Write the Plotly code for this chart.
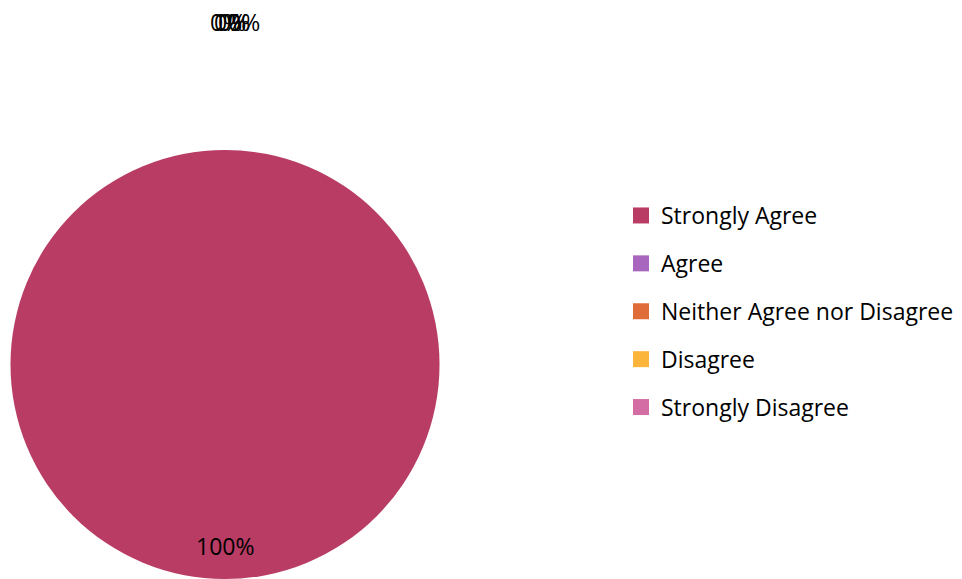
import plotly.graph_objects as go

categories = ["Strongly Agree", "Agree", "Neither Agree nor Disagree", "Disagree", "Strongly Disagree"]
values = [1, 0, 0, 0, 0]
colors = ["#B83C64", "#A966BE", "#E06C39", "#FBB53A", "#D36DA3"]

FONT = "Open Sans"
total = sum(values)
pct = [f"{round(v / total * 100)}%" for v in values]

fig = go.Figure()
fig.add_trace(go.Pie(
    labels=categories, values=values, sort=False, direction="clockwise", rotation=0,
    marker=dict(colors=colors, line=dict(width=0)),
    textinfo="none", showlegend=False, hoverinfo="label+percent",
    domain=dict(x=[0.0109, 0.4569], y=[0.0, 0.741]),
))

# legend entries
for c, col in zip(categories, colors):
    fig.add_trace(go.Scatter(x=[None], y=[None], mode="markers", name=c, legendgroup=c,
                             marker=dict(symbol="square", size=16, color=col)))

# data labels
zero_x = [226, 230, 234, 244]
zi = 0
annotations = []
for i, (v, p) in enumerate(zip(values, pct)):
    if v > 0:
        ax, ay = 225, 546
    else:
        ax, ay = zero_x[zi], 22
        zi += 1
    annotations.append(dict(x=ax / 962, y=1 - ay / 579, xref="paper", yref="paper", text=p,
                            xanchor="center", yanchor="middle", showarrow=False,
                            font=dict(family=FONT, size=23, color="#000000")))

fig.update_layout(
    width=962, height=579, margin=dict(l=0, r=0, t=0, b=0),
    paper_bgcolor="white", plot_bgcolor="white",
    xaxis=dict(visible=False), yaxis=dict(visible=False),
    annotations=annotations,
    legend=dict(x=621 / 962, xanchor="left", y=1 - 194 / 579, yanchor="top",
                font=dict(family=FONT, size=23, color="#000000"), tracegroupgap=15,
                itemclick=False),
    font=dict(family=FONT),
)
fig.write_html("out.html", config={"displayModeBar": False},
               post_script="document.body.style.margin='0';")
